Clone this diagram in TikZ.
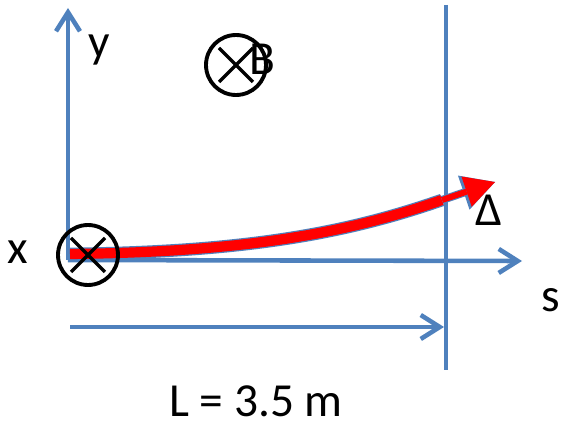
\documentclass[tikz,border=0pt]{standalone}
\usepackage{fontspec}
\setmainfont{Carlito}
\usetikzlibrary{arrows.meta}
\definecolor{axisblue}{RGB}{79,129,189}

\begin{document}
\begin{tikzpicture}[
    x=0.02cm,y=-0.02cm,
    axis/.style={axisblue,line width=2.6pt},
    axisarrow/.style={axis,-{Straight Barb[length=0.38cm,width=0.48cm]}},
    intoplane/.style={circle,draw,line width=2.2pt,minimum size=1.2cm,inner sep=0pt,
      path picture={\draw[line width=1.9pt]
        ([shift={(-17,-17)}]path picture bounding box.center) -- ([shift={(17,17)}]path picture bounding box.center)
        ([shift={(17,-17)}]path picture bounding box.center) -- ([shift={(-17,17)}]path picture bounding box.center);}},
    lbl/.style={font=\fontsize{27}{30}\selectfont,inner sep=0pt},
    >=Stealth
  ]
  \useasboundingbox (0,0) rectangle (562,429);

  %% Axes and marks
  \coordinate (origin) at (68,260);
  \coordinate (ytop) at (68,8);
  \coordinate (send) at (522,261);
  \coordinate (wtop) at (446,5);
  \coordinate (wbot) at (446,370);
  \coordinate (lstart) at (70,327);
  \coordinate (lend) at (444,327);

  \draw[axisarrow] (origin) -- (ytop);
  \draw[axisarrow] (origin) -- (send);
  \draw[axis] (wtop) -- (wbot);
  \draw[axisarrow] (lstart) -- (lend);

  %% Deflected path
  \coordinate (rstart) at (70,254);
  \coordinate (bend) at (442,200);
  \coordinate (dend) at (495,182);
  \draw[draw=axisblue,double=red,double distance=5.8pt,line width=0.7pt]
    (rstart) .. controls (250,252) and (350,232) .. (bend);
  \draw[axisblue,line width=4.6pt,-{Triangle[length=0.66cm,width=0.72cm,line width=0pt]}] (bend) -- (dend);
  \draw[red,line width=3.4pt,-{Triangle[length=0.6cm,width=0.64cm,line width=0pt]}] (bend) -- (dend);

  %% Field and labels
  \node[intoplane] (o) at (88,255) {};
  \node[intoplane] (b) at (236,65) {};
  \node[lbl] (blbl) at (262,59) {B};
  \node[lbl] (ylbl) at (99,50) {y};
  \node[lbl] (xlbl) at (18,252) {x};
  \node[lbl] (slbl) at (551,300) {s};
  \node[lbl] (dlbl) at (489,210) {Δ};
  \node[lbl] (len) at (256,401) {L = 3.5 m};
\end{tikzpicture}
\end{document}
